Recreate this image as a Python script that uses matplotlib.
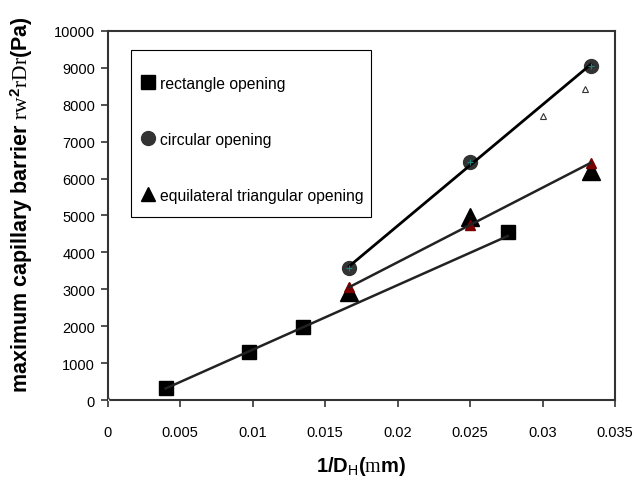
import numpy as np
import matplotlib
matplotlib.use("Agg")
import matplotlib.pyplot as plt
from matplotlib.lines import Line2D
from matplotlib.patches import Rectangle

plt.rcParams['font.family'] = ['Liberation Sans', 'DejaVu Sans']
plt.rcParams['mathtext.fontset'] = 'custom'
plt.rcParams['mathtext.rm'] = 'Liberation Serif'
plt.rcParams['mathtext.bf'] = 'Liberation Sans:bold'
plt.rcParams['mathtext.sf'] = 'Liberation Sans'
plt.rcParams['mathtext.it'] = 'Liberation Serif'

# ---- data ----
rect_x = [0.0040, 0.00972, 0.01346, 0.02760]
rect_y = [320, 1295, 1980, 4545]

circ_x = [0.016667, 0.025, 0.033333]
circ_y = [3580, 6450, 9050]

tri_x = [0.016667, 0.025, 0.033333]
tri_y = [2920, 4960, 6210]

tri_red_x = [0.016667, 0.025, 0.033333]
tri_red_y = [3060, 4740, 6430]

hollow_x = [0.0, 0.0300, 0.0329]
hollow_y = [0, 7690, 8430]

labels = ["rectangle opening", "circular opening", "equilateral triangular opening"]
xticks = [0, 0.005, 0.01, 0.015, 0.02, 0.025, 0.03, 0.035]
xtick_labels = ["0", "0.005", "0.01", "0.015", "0.02", "0.025", "0.03", "0.035"]
yticks = list(range(0, 10001, 1000))

fig = plt.figure(figsize=(6.36, 4.81), dpi=100)
ax = fig.add_axes([0.1692, 0.1663, 0.7978, 0.7672])

# markers
ax.plot(rect_x, rect_y, 's', color='black', markersize=10, zorder=3)
ax.plot(circ_x, circ_y, 'o', color='#333333', markersize=10, zorder=3)
ax.plot(tri_x, tri_y, '^', color='black', markersize=13, zorder=3)
ax.plot(tri_red_x, tri_red_y, '^', color='#7a0000', markersize=7, zorder=3)
ax.plot(hollow_x, hollow_y, '^', markerfacecolor='white', markeredgecolor='#333333',
        markersize=5, markeredgewidth=0.8, zorder=3)
ax.plot(circ_x, circ_y, '+', color='#1a8080', markersize=5, markeredgewidth=0.8, zorder=5)

# trend lines
def trend(fit_x, fit_y, x_start, x_end, color, lw):
    p = np.polyfit(fit_x, fit_y, 1)
    xx = np.array([x_start, x_end])
    ax.plot(xx, np.polyval(p, xx), '-', color=color, lw=lw, zorder=4)

trend(rect_x[:3], rect_y[:3], rect_x[0], rect_x[-1], '#222222', 1.8)
trend(circ_x, circ_y, circ_x[0], circ_x[-1], 'black', 2.0)
trend(tri_red_x, tri_red_y, tri_red_x[0], tri_red_x[-1], '#222222', 1.8)

ax.set_xlim(0, 0.035)
ax.set_ylim(0, 10000)
ax.set_xticks(xticks)
ax.set_xticklabels(xtick_labels)
ax.set_yticks(yticks)
ax.tick_params(axis='both', direction='out', length=5, width=1.2, labelsize=10.5, color='#333333')
ax.tick_params(axis='x', pad=13)
ax.tick_params(axis='y', pad=4)
for s in ax.spines.values():
    s.set_linewidth(1.5)
    s.set_color('#333333')

ax.set_xlabel(r'1/D$_{\mathsf{H}}$($\mathrm{m}$m)', fontsize=14.5, fontweight='bold', labelpad=11)
ax.set_ylabel(r'maximum capillary barrier $\mathrm{rw}^{\mathbf{2}}\mathrm{rDr}$(Pa)',
              fontsize=15.5, fontweight='bold')
ax.yaxis.set_label_coords(-0.143, 0.531)

# legend frame
ax.add_patch(Rectangle((0.0461, 0.496), 0.4729, 0.4525, transform=ax.transAxes,
                       facecolor='white', edgecolor='black', linewidth=0.8, zorder=6))
handles = [
    Line2D([], [], marker='s', color='black', linestyle='None', markersize=10),
    Line2D([], [], marker='o', color='#333333', linestyle='None', markersize=10),
    Line2D([], [], marker='^', color='black', linestyle='None', markersize=10),
]
leg = ax.legend(handles, labels, loc='upper left', bbox_to_anchor=(0.064, 0.879),
                borderaxespad=0, borderpad=0, fontsize=11.3, labelspacing=2.62,
                handlelength=1.0, handletextpad=0.25, frameon=False)
leg.set_zorder(7)

fig.savefig("out.png", dpi=100)
